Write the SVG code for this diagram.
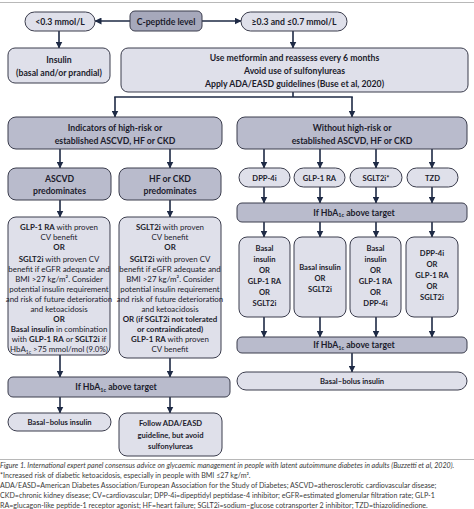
<svg xmlns="http://www.w3.org/2000/svg" width="474" height="509" viewBox="0 0 474 509">
<defs>
<marker id="ah" markerUnits="userSpaceOnUse" markerWidth="7" markerHeight="7" refX="6.5" refY="3.5" orient="auto">
<path d="M0,0 L7,3.5 L0,7 z" fill="#1e2a45"/>
</marker>
<style>
.lt{fill:#dfe0ea;stroke:#3b3d4d;stroke-width:1}
.dk{fill:#b9bbcc;stroke:#3b3d4d;stroke-width:1}
.cp{fill:#a6a8bb;stroke:#3b3d4d;stroke-width:1}
.t{font-family:Lato,"Liberation Sans",sans-serif;font-weight:bold;font-size:8.7px;fill:#1c1c2c;text-anchor:middle}
.s{font-family:Lato,"Liberation Sans",sans-serif;font-weight:bold;font-size:7.6px;fill:#1c1c2c;text-anchor:middle}
.b{font-family:Lato,"Liberation Sans",sans-serif;font-weight:normal;font-size:7.9px;fill:#1c1c2c;text-anchor:middle}
.b tspan.k{font-weight:bold}
.c{font-family:Lato,"Liberation Sans",sans-serif;font-size:7.1px;fill:#3a3a3a}
.ar{stroke:#1e2a45;stroke-width:1.6;fill:none}
.rule{stroke:#b8b8b8;stroke-width:1.2}
</style>
</defs>
<rect width="474" height="509" fill="#fff"/>
<line class="rule" x1="0" y1="2.5" x2="474" y2="2.5"/>

<g id="connectors">
<line class="ar" x1="130" y1="21" x2="95" y2="21" marker-end="url(#ah)"/>
<line class="ar" x1="202" y1="21" x2="241" y2="21" marker-end="url(#ah)"/>
<line class="ar" x1="59" y1="31" x2="59" y2="48" marker-end="url(#ah)"/>
<line class="ar" x1="293" y1="31" x2="293" y2="48" marker-end="url(#ah)"/>
<polyline class="ar" points="293,92 293,97"/>
<line class="ar" x1="114.2" y1="97" x2="352.8" y2="97"/>
<line class="ar" x1="115" y1="97" x2="115" y2="117" marker-end="url(#ah)"/>
<line class="ar" x1="352" y1="97" x2="352" y2="117" marker-end="url(#ah)"/>
<line class="ar" x1="60" y1="149" x2="60" y2="168" marker-end="url(#ah)"/>
<line class="ar" x1="170" y1="149" x2="170" y2="168" marker-end="url(#ah)"/>
<line class="ar" x1="60" y1="200" x2="60" y2="217" marker-end="url(#ah)"/>
<line class="ar" x1="170" y1="200" x2="170" y2="217" marker-end="url(#ah)"/>
<line class="ar" x1="60" y1="355" x2="60" y2="377" marker-end="url(#ah)"/>
<line class="ar" x1="170" y1="358" x2="170" y2="377" marker-end="url(#ah)"/>
<line class="ar" x1="60" y1="397" x2="60" y2="413" marker-end="url(#ah)"/>
<line class="ar" x1="170" y1="397" x2="170" y2="413" marker-end="url(#ah)"/>
<line class="ar" x1="264" y1="149" x2="264" y2="168" marker-end="url(#ah)"/>
<line class="ar" x1="320" y1="149" x2="320" y2="168" marker-end="url(#ah)"/>
<line class="ar" x1="376" y1="149" x2="376" y2="168" marker-end="url(#ah)"/>
<line class="ar" x1="432" y1="149" x2="432" y2="168" marker-end="url(#ah)"/>
<line class="ar" x1="264" y1="187" x2="264" y2="203" marker-end="url(#ah)"/>
<line class="ar" x1="320" y1="187" x2="320" y2="203" marker-end="url(#ah)"/>
<line class="ar" x1="376" y1="187" x2="376" y2="203" marker-end="url(#ah)"/>
<line class="ar" x1="432" y1="187" x2="432" y2="203" marker-end="url(#ah)"/>
<line class="ar" x1="264" y1="222" x2="264" y2="237" marker-end="url(#ah)"/>
<line class="ar" x1="320" y1="222" x2="320" y2="237" marker-end="url(#ah)"/>
<line class="ar" x1="376" y1="222" x2="376" y2="237" marker-end="url(#ah)"/>
<line class="ar" x1="432" y1="222" x2="432" y2="237" marker-end="url(#ah)"/>
<line class="ar" x1="264" y1="317" x2="264" y2="337" marker-end="url(#ah)"/>
<line class="ar" x1="320" y1="317" x2="320" y2="337" marker-end="url(#ah)"/>
<line class="ar" x1="376" y1="317" x2="376" y2="337" marker-end="url(#ah)"/>
<line class="ar" x1="432" y1="317" x2="432" y2="337" marker-end="url(#ah)"/>
<line class="ar" x1="352" y1="353" x2="352" y2="372" marker-end="url(#ah)"/>
</g>

<g id="low">
<rect class="lt" x="25" y="12" width="70" height="19" rx="9.5"/>
<text class="t" x="60" y="24.5">&lt;0.3 mmol/L</text>
</g>
<g id="cpeptide">
<rect class="cp" x="130" y="11" width="72" height="20" rx="5"/>
<text class="t" x="166" y="24.5">C-peptide level</text>
</g>
<g id="mid">
<rect class="lt" x="241" y="12" width="106" height="19" rx="9.5"/>
<text class="t" x="294" y="24.5">≥0.3 and ≤0.7 mmol/L</text>
</g>
<g id="insulin">
<rect class="lt" x="8" y="48" width="102" height="35" rx="7"/>
<text class="t" x="59" y="63">Insulin</text>
<text class="t" x="59" y="75.5">(basal and/or prandial)</text>
</g>
<g id="metformin">
<rect class="lt" x="121" y="48" width="347" height="44" rx="7"/>
<text class="t" x="294.5" y="61">Use metformin and reassess every 6 months</text>
<text class="t" x="294.5" y="74">Avoid use of sulfonylureas</text>
<text class="t" x="294.5" y="87">Apply ADA/EASD guidelines (Buse et al, 2020)</text>
</g>
<g id="indicators">
<rect class="dk" x="8" y="117" width="214" height="32" rx="8"/>
<text class="t" x="115" y="130.5">Indicators of high-risk or</text>
<text class="t" x="115" y="143.5">established ASCVD, HF or CKD</text>
</g>
<g id="without">
<rect class="dk" x="237" y="117" width="230" height="32" rx="8"/>
<text class="t" x="352" y="130.5">Without high-risk or</text>
<text class="t" x="352" y="143.5">established ASCVD, HF or CKD</text>
</g>
<g id="ascvd">
<rect class="dk" x="8" y="168" width="103" height="32" rx="8"/>
<text class="t" x="59.5" y="181.5">ASCVD</text>
<text class="t" x="59.5" y="194">predominates</text>
</g>
<g id="hfckd">
<rect class="dk" x="119" y="168" width="102" height="32" rx="8"/>
<text class="t" x="170" y="181.5">HF or CKD</text>
<text class="t" x="170" y="194">predominates</text>
</g>
<g id="ascvd-detail">
<rect class="lt" x="8" y="217" width="102" height="138" rx="8"/>
<text class="b" x="59" y="229.5"><tspan class="k">GLP-1 RA</tspan> with proven</text>
<text class="b" x="59" y="239.5">CV benefit</text>
<text class="b" x="59" y="249.5"><tspan class="k">OR</tspan></text>
<text class="b" x="59" y="261.5"><tspan class="k">SGLT2i</tspan> with proven CV</text>
<text class="b" x="59" y="271.5">benefit if eGFR adequate and</text>
<text class="b" x="59" y="281.5">BMI &gt;27 kg/m². Consider</text>
<text class="b" x="59" y="291.5">potential insulin requirement</text>
<text class="b" x="59" y="301.5">and risk of future deterioration</text>
<text class="b" x="59" y="311.5">and ketoacidosis</text>
<text class="b" x="59" y="321.5"><tspan class="k">OR</tspan></text>
<text class="b" x="59" y="332"><tspan class="k">Basal insulin</tspan> in combination</text>
<text class="b" x="59" y="342">with <tspan class="k">GLP-1 RA</tspan> or <tspan class="k">SGLT2i</tspan> if</text>
<text class="b" x="59" y="352">HbA<tspan font-size="5" dy="1.5">1c</tspan><tspan dy="-1.5"> &gt;75 mmol/mol (9.0%)</tspan></text>
</g>
<g id="hf-detail">
<rect class="lt" x="119" y="217" width="102" height="141" rx="8"/>
<text class="b" x="170" y="229.5"><tspan class="k">SGLT2i</tspan> with proven</text>
<text class="b" x="170" y="239.5">CV benefit</text>
<text class="b" x="170" y="249.5"><tspan class="k">OR</tspan></text>
<text class="b" x="170" y="261.5"><tspan class="k">SGLT2i</tspan> with proven CV</text>
<text class="b" x="170" y="271.5">benefit if eGFR adequate and</text>
<text class="b" x="170" y="281.5">BMI &gt;27 kg/m². Consider</text>
<text class="b" x="170" y="291.5">potential insulin requirement</text>
<text class="b" x="170" y="301.5">and risk of future deterioration</text>
<text class="b" x="170" y="311.5">and ketoacidosis</text>
<text class="b" x="170" y="321.5"><tspan class="k">OR (if SGLT2i not tolerated</tspan></text>
<text class="b" x="170" y="332"><tspan class="k">or contraindicated)</tspan></text>
<text class="b" x="170" y="342"><tspan class="k">GLP-1 RA</tspan> with proven</text>
<text class="b" x="170" y="352">CV benefit</text>
</g>
<g id="hba1c-left">
<rect class="dk" x="8" y="377" width="222" height="20" rx="5"/>
<text class="t" x="116" y="390">If HbA<tspan font-size="5.5" dy="1.8">1c</tspan><tspan dy="-1.8"> above target</tspan></text>
</g>
<g id="basal-bolus-left">
<rect class="lt" x="8" y="413" width="103" height="18" rx="9"/>
<text class="s" x="59.5" y="425">Basal–bolus insulin</text>
</g>
<g id="follow">
<rect class="lt" x="119" y="413" width="103" height="43" rx="8"/>
<text class="s" x="170.5" y="426">Follow ADA/EASD</text>
<text class="s" x="170.5" y="437.5">guideline, but avoid</text>
<text class="s" x="170.5" y="449">sulfonylureas</text>
</g>
<g id="dpp4i">
<rect class="lt" x="239" y="168" width="51" height="19" rx="9.5"/>
<text class="s" x="264.5" y="180.5">DPP-4i</text>
</g>
<g id="glp1ra">
<rect class="lt" x="294" y="168" width="51" height="19" rx="9.5"/>
<text class="s" x="319.5" y="180.5">GLP-1 RA</text>
</g>
<g id="sglt2i">
<rect class="lt" x="350" y="168" width="52" height="19" rx="9.5"/>
<text class="s" x="376" y="180.5">SGLT2i*</text>
</g>
<g id="tzd">
<rect class="lt" x="407" y="168" width="51" height="19" rx="9.5"/>
<text class="s" x="432.5" y="180.5">TZD</text>
</g>
<g id="hba1c-right-1">
<rect class="dk" x="237" y="203" width="230" height="19" rx="5"/>
<text class="t" x="354" y="215.5">If HbA<tspan font-size="5.5" dy="1.8">1c</tspan><tspan dy="-1.8"> above target</tspan></text>
</g>
<g id="opt1">
<rect class="lt" x="239" y="237" width="51" height="80" rx="8"/>
<text class="s" x="264.5" y="250.5">Basal</text>
<text class="s" x="264.5" y="261.5">insulin</text>
<text class="s" x="264.5" y="272.5">OR</text>
<text class="s" x="264.5" y="283.5">GLP-1 RA</text>
<text class="s" x="264.5" y="294.5">OR</text>
<text class="s" x="264.5" y="305.5">SGLT2i</text>
</g>
<g id="opt2">
<rect class="lt" x="294" y="237" width="52" height="80" rx="8"/>
<text class="s" x="320" y="269.5">Basal insulin</text>
<text class="s" x="320" y="280.5">OR</text>
<text class="s" x="320" y="291.5">SGLT2i</text>
</g>
<g id="opt3">
<rect class="lt" x="350" y="237" width="51" height="80" rx="8"/>
<text class="s" x="375.5" y="250.5">Basal</text>
<text class="s" x="375.5" y="261.5">insulin</text>
<text class="s" x="375.5" y="272.5">OR</text>
<text class="s" x="375.5" y="283.5">GLP-1 RA</text>
<text class="s" x="375.5" y="294.5">OR</text>
<text class="s" x="375.5" y="305.5">DPP-4i</text>
</g>
<g id="opt4">
<rect class="lt" x="406" y="237" width="52" height="80" rx="8"/>
<text class="s" x="432" y="255.5">DPP-4i</text>
<text class="s" x="432" y="266.5">OR</text>
<text class="s" x="432" y="277.5">GLP-1 RA</text>
<text class="s" x="432" y="288.5">OR</text>
<text class="s" x="432" y="299.5">SGLT2i</text>
</g>
<g id="hba1c-right-2">
<rect class="dk" x="237" y="337" width="230" height="16" rx="5"/>
<text class="t" x="354" y="348">If HbA<tspan font-size="5.5" dy="1.8">1c</tspan><tspan dy="-1.8"> above target</tspan></text>
</g>
<g id="basal-bolus-right">
<rect class="lt" x="237" y="372" width="230" height="18" rx="9"/>
<text class="s" x="352" y="384">Basal–bolus insulin</text>
</g>

<line class="rule" x1="0" y1="459.5" x2="474" y2="459.5"/>
<g id="caption">
<text class="c" x="0" y="467.5" font-style="italic" font-size="7.25px">Figure 1. International expert panel consensus advice on glycaemic management in people with latent autoimmune diabetes in adults (Buzzetti et al, 2020).</text>
<text class="c" x="0" y="477.5">*Increased risk of diabetic ketoacidosis, especially in people with BMI ≤27 kg/m².</text>
<text class="c" x="0" y="488">ADA/EASD=American Diabetes Association/European Association for the Study of Diabetes; ASCVD=atherosclerotic cardiovascular disease;</text>
<text class="c" x="0" y="498">CKD=chronic kidney disease; CV=cardiovascular; DPP-4i=dipeptidyl peptidase-4 inhibitor; eGFR=estimated glomerular filtration rate; GLP-1</text>
<text class="c" x="0" y="508">RA=glucagon-like peptide-1 receptor agonist; HF=heart failure; SGLT2i=sodium–glucose cotransporter 2 inhibitor; TZD=thiazolidinedione.</text>
</g>
</svg>
